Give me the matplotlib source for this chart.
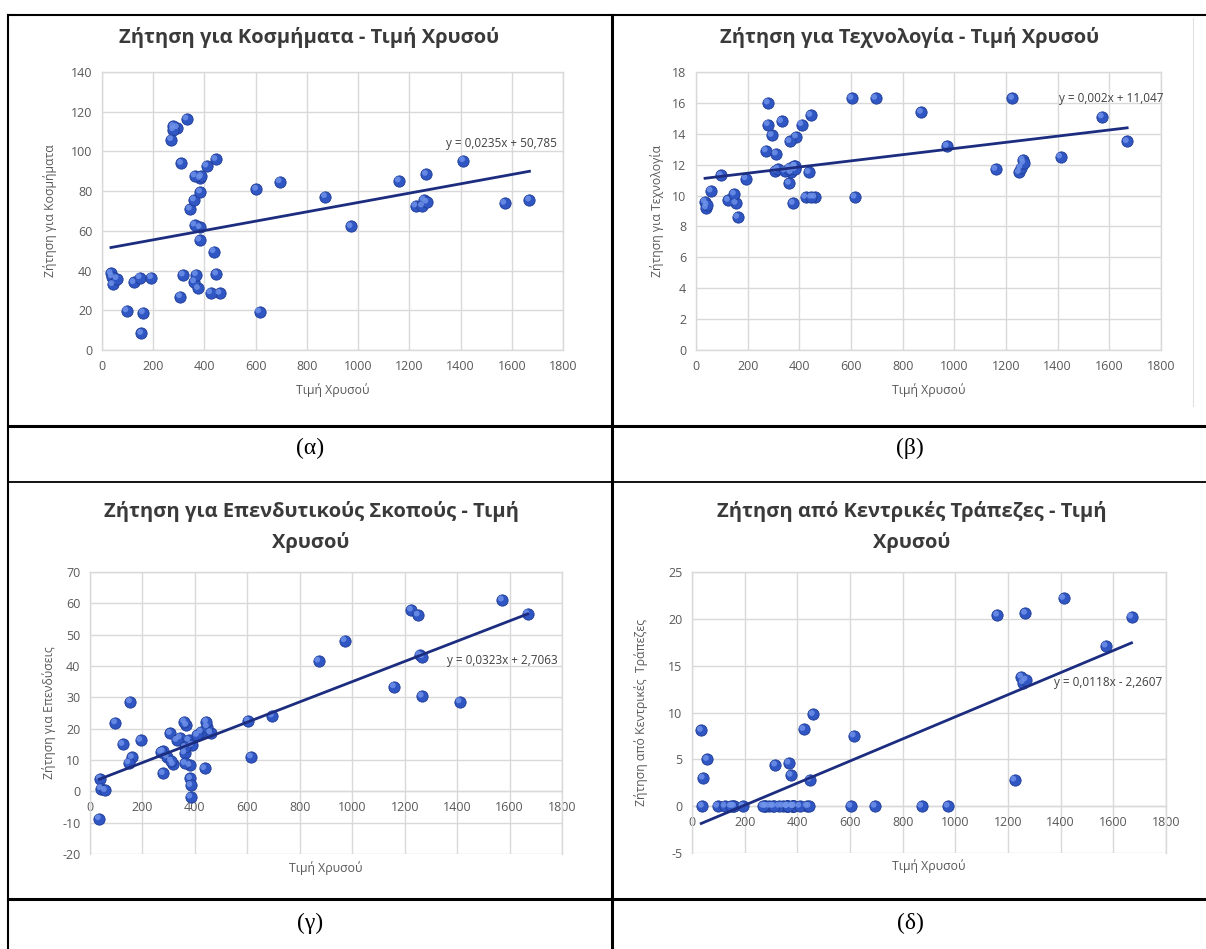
import matplotlib
matplotlib.use("Agg")
import matplotlib.pyplot as plt
from matplotlib.lines import Line2D
from matplotlib.transforms import offset_copy

plt.rcParams['font.family'] = ['Open Sans', 'DejaVu Sans']
plt.rcParams['axes.unicode_minus'] = False

# gold price (x, shared by all four charts)
gold_price = [35, 39, 42, 58, 97, 154, 161, 125, 148, 193,
              306, 615, 460, 376, 424, 361, 317, 368, 447, 437,
              381, 383, 362, 344, 360, 384, 384, 388, 331, 294,
              279, 279, 271, 310, 363, 409, 444, 603, 695, 872,
              972, 1225, 1572, 1669, 1411, 1266, 1160, 1251, 1257, 1268]

jewellery = [38.6, 37, 33, 36, 19.8, 8.4, 18.8, 34, 36.5, 36.5,
             26.9, 19.3, 28.6, 31, 28.9, 34.4, 37.8, 38, 38.3, 49.6,
             55.4, 61.7, 63, 71, 75.6, 79.6, 86.5, 87.4, 116.4, 112,
             112.6, 111, 106, 94, 87.7, 92.7, 96, 81, 84.8, 77.3,
             62.2, 72.6, 73.9, 75.6, 95.4, 88.5, 85.2, 72.6, 75.6, 74.5]

technology = [9.6, 9.2, 9.4, 10.3, 11.3, 9.5, 8.6, 9.7, 10.1, 11.1,
              11.6, 9.9, 9.9, 9.5, 9.9, 10.8, 11.7, 11.5, 9.9, 11.5,
              11.9, 11.8, 11.8, 11.6, 11.7, 11.9, 11.7, 13.8, 14.8, 13.9,
              14.6, 16.0, 12.9, 12.7, 13.5, 14.6, 15.2, 16.3, 16.3, 15.4,
              13.2, 16.3, 15.1, 13.5, 12.5, 12.3, 11.7, 11.5, 11.8, 12.1]

investment = [-8.7, 4.0, 0.9, 0.3, 21.9, 28.6, 10.8, 15, 9.1, 16.3,
              18.5, 11, 18.7, 16.3, 19, 12.3, 8.6, 21.1, 20.6, 7.3,
              8.3, 4.1, 8.9, 17.1, 22.2, 1.9, -1.8, 14.7, 16.3, 11,
              12.8, 5.7, 12.5, 9.7, 14, 17.9, 22.2, 22.5, 24.1, 41.6,
              48.1, 57.9, 61.1, 56.7, 28.6, 30.4, 33.4, 56.3, 43.5, 43]

central_banks = [8.1, 0, 3.0, 5.0, 0, 0, 0, 0, 0, 0,
                 0, 7.5, 9.8, 3.3, 8.2, 0, 4.4, 4.6, 2.8, 0,
                 0, 0, 0, 0, 0, 0, 0, 0, 0, 0,
                 0, 0, 0, 0, 0, 0, 0, 0, 0, 0,
                 0, 2.8, 17.1, 20.2, 22.2, 20.6, 20.4, 13.8, 13.2, 13.5]

# excel trendline coefficients (slope, intercept) and their labels
trend_coefs = [(0.0235, 50.785), (0.002, 11.047), (0.0323, 2.7063), (0.0118, -2.2607)]
trend_labels = ["y = 0,0235x + 50,785", "y = 0,002x + 11,047",
                "y = 0,0323x + 2,7063", "y = 0,0118x - 2,2607"]

titles = ["Ζήτηση για Κοσμήματα - Τιμή Χρυσού",
          "Ζήτηση για Τεχνολογία - Τιμή Χρυσού",
          "Ζήτηση για Επενδυτικούς Σκοπούς - Τιμή\nΧρυσού",
          "Ζήτηση από Κεντρικές Τράπεζες - Τιμή\nΧρυσού"]
ylabels = ["Ζήτηση για Κοσμήματα", "Ζήτηση για Τεχνολογία",
           "Ζήτηση για Επενδύσεις", "Ζήτηση από Κεντρικές  Τράπεζες"]
xlabel = "Τιμή Χρυσού"
captions = ["(α)", "(β)", "(γ)", "(δ)"]

ylims = [(0, 140, 20), (0, 18, 2), (-20, 70, 10), (-5, 25, 5)]

W, H = 1206, 949
GRID = '#d9d9d9'
TXT = '#595959'


def px_rect(l, r, t, b):
    return [l / W, 1 - b / H, (r - l) / W, (b - t) / H]


def draw_chart(fig, rect, x, y, k, title_xy, ylab_x, eq_xy):
    ax = fig.add_axes(px_rect(*rect))
    lo, hi, step = ylims[k]
    ax.set_xlim(0, 1800)
    ax.set_ylim(lo, hi)
    ax.set_xticks(range(0, 1801, 200))
    ax.set_yticks(range(lo, hi + 1, step))
    ax.grid(True, color=GRID, lw=1.0)
    ax.set_axisbelow(True)
    for s in ax.spines.values():
        s.set_color(GRID)
        s.set_linewidth(1.0)
    if lo < 0:
        # excel puts the horizontal axis at y = 0
        ax.spines['bottom'].set_position(('data', 0))
    ax.tick_params(length=0, pad=7, labelsize=9, labelcolor=TXT)

    # marker with a small highlight, like excel's shaded dots
    ax.scatter(x, y, s=66, color='#3056c4', edgecolor='#1f3c93', linewidth=0.6, zorder=3)
    hl = offset_copy(ax.transData, fig=fig, x=-1.0, y=1.0, units='points')
    ax.scatter(x, y, s=18, color='#7094ea', edgecolor='none', alpha=0.8,
               transform=hl, zorder=3)

    m, c = trend_coefs[k]
    xs = [min(x), max(x)]
    ax.plot(xs, [m * v + c for v in xs], color='#1c2d80', lw=2, zorder=4)
    ax.text(eq_xy[0], eq_xy[1], trend_labels[k], ha='center', va='center',
            fontsize=8.5, color='#404040', zorder=5)

    fig.text(title_xy[0] / W, 1 - title_xy[1] / H, titles[k], ha='center', va='center',
             fontsize=14.5, fontweight='bold', color='#3a3a3a', linespacing=1.65)
    cx = (rect[0] + rect[1]) / 2
    cy = (rect[2] + rect[3]) / 2
    fig.text(ylab_x / W, 1 - cy / H, ylabels[k], rotation=90, ha='center', va='center',
             fontsize=8.8, color=TXT)
    return ax, cx


def main():
    fig = plt.figure(figsize=(W / 100, H / 100), dpi=100)

    series = [jewellery, technology, investment, central_banks]
    rects = [(102, 563, 72, 350), (696, 1161, 72, 350),
             (90, 562, 572, 854), (692, 1166, 572, 853)]
    title_pos = [(309, 38), (910, 38), (311, 527), (912, 527)]
    ylab_pos = [50, 657, 49, 641]
    eq_pos = [(1558, 104), (1607, 16.3), (1571, 41.9), (1582, 13.2)]
    xlab_y = [390, 390, 868, 866]

    for k in range(4):
        ax, cx = draw_chart(fig, rects[k], gold_price, series[k], k,
                            title_pos[k], ylab_pos[k], eq_pos[k])
        fig.text(cx / W, 1 - xlab_y[k] / H, xlabel, ha='center', va='center',
                 fontsize=8.8, color=TXT)

    # table borders
    def hline(y, x0, x1, lw):
        fig.add_artist(Line2D([x0 / W, x1 / W], [1 - y / H, 1 - y / H], color='black', lw=lw))

    def vline(x, y0, y1, lw):
        fig.add_artist(Line2D([x / W, x / W], [1 - y0 / H, 1 - y1 / H], color='black', lw=lw))

    hline(15, 8, W, 1.5)
    hline(426, 8, W, 2.2)
    hline(482, 8, W, 1.3)
    hline(899, 8, W, 2.2)
    vline(8, 15, H, 1.5)
    vline(612, 15, H, 2.2)

    # faint outline of the pasted chart image in the top-right cell
    fig.add_artist(Line2D([1193 / W, 1193 / W], [1 - 18 / H, 1 - 406 / H], color='#e0e0e0', lw=0.8))

    cap_pos = [(310, 448), (910, 448), (310, 923), (910, 923)]
    for (cx, cy), cap in zip(cap_pos, captions):
        fig.text(cx / W, 1 - cy / H, cap, ha='center', va='center',
                 fontsize=17, family='Liberation Serif', color='black')

    fig.savefig("out.png", dpi=100, facecolor='white')


if __name__ == "__main__":
    main()
